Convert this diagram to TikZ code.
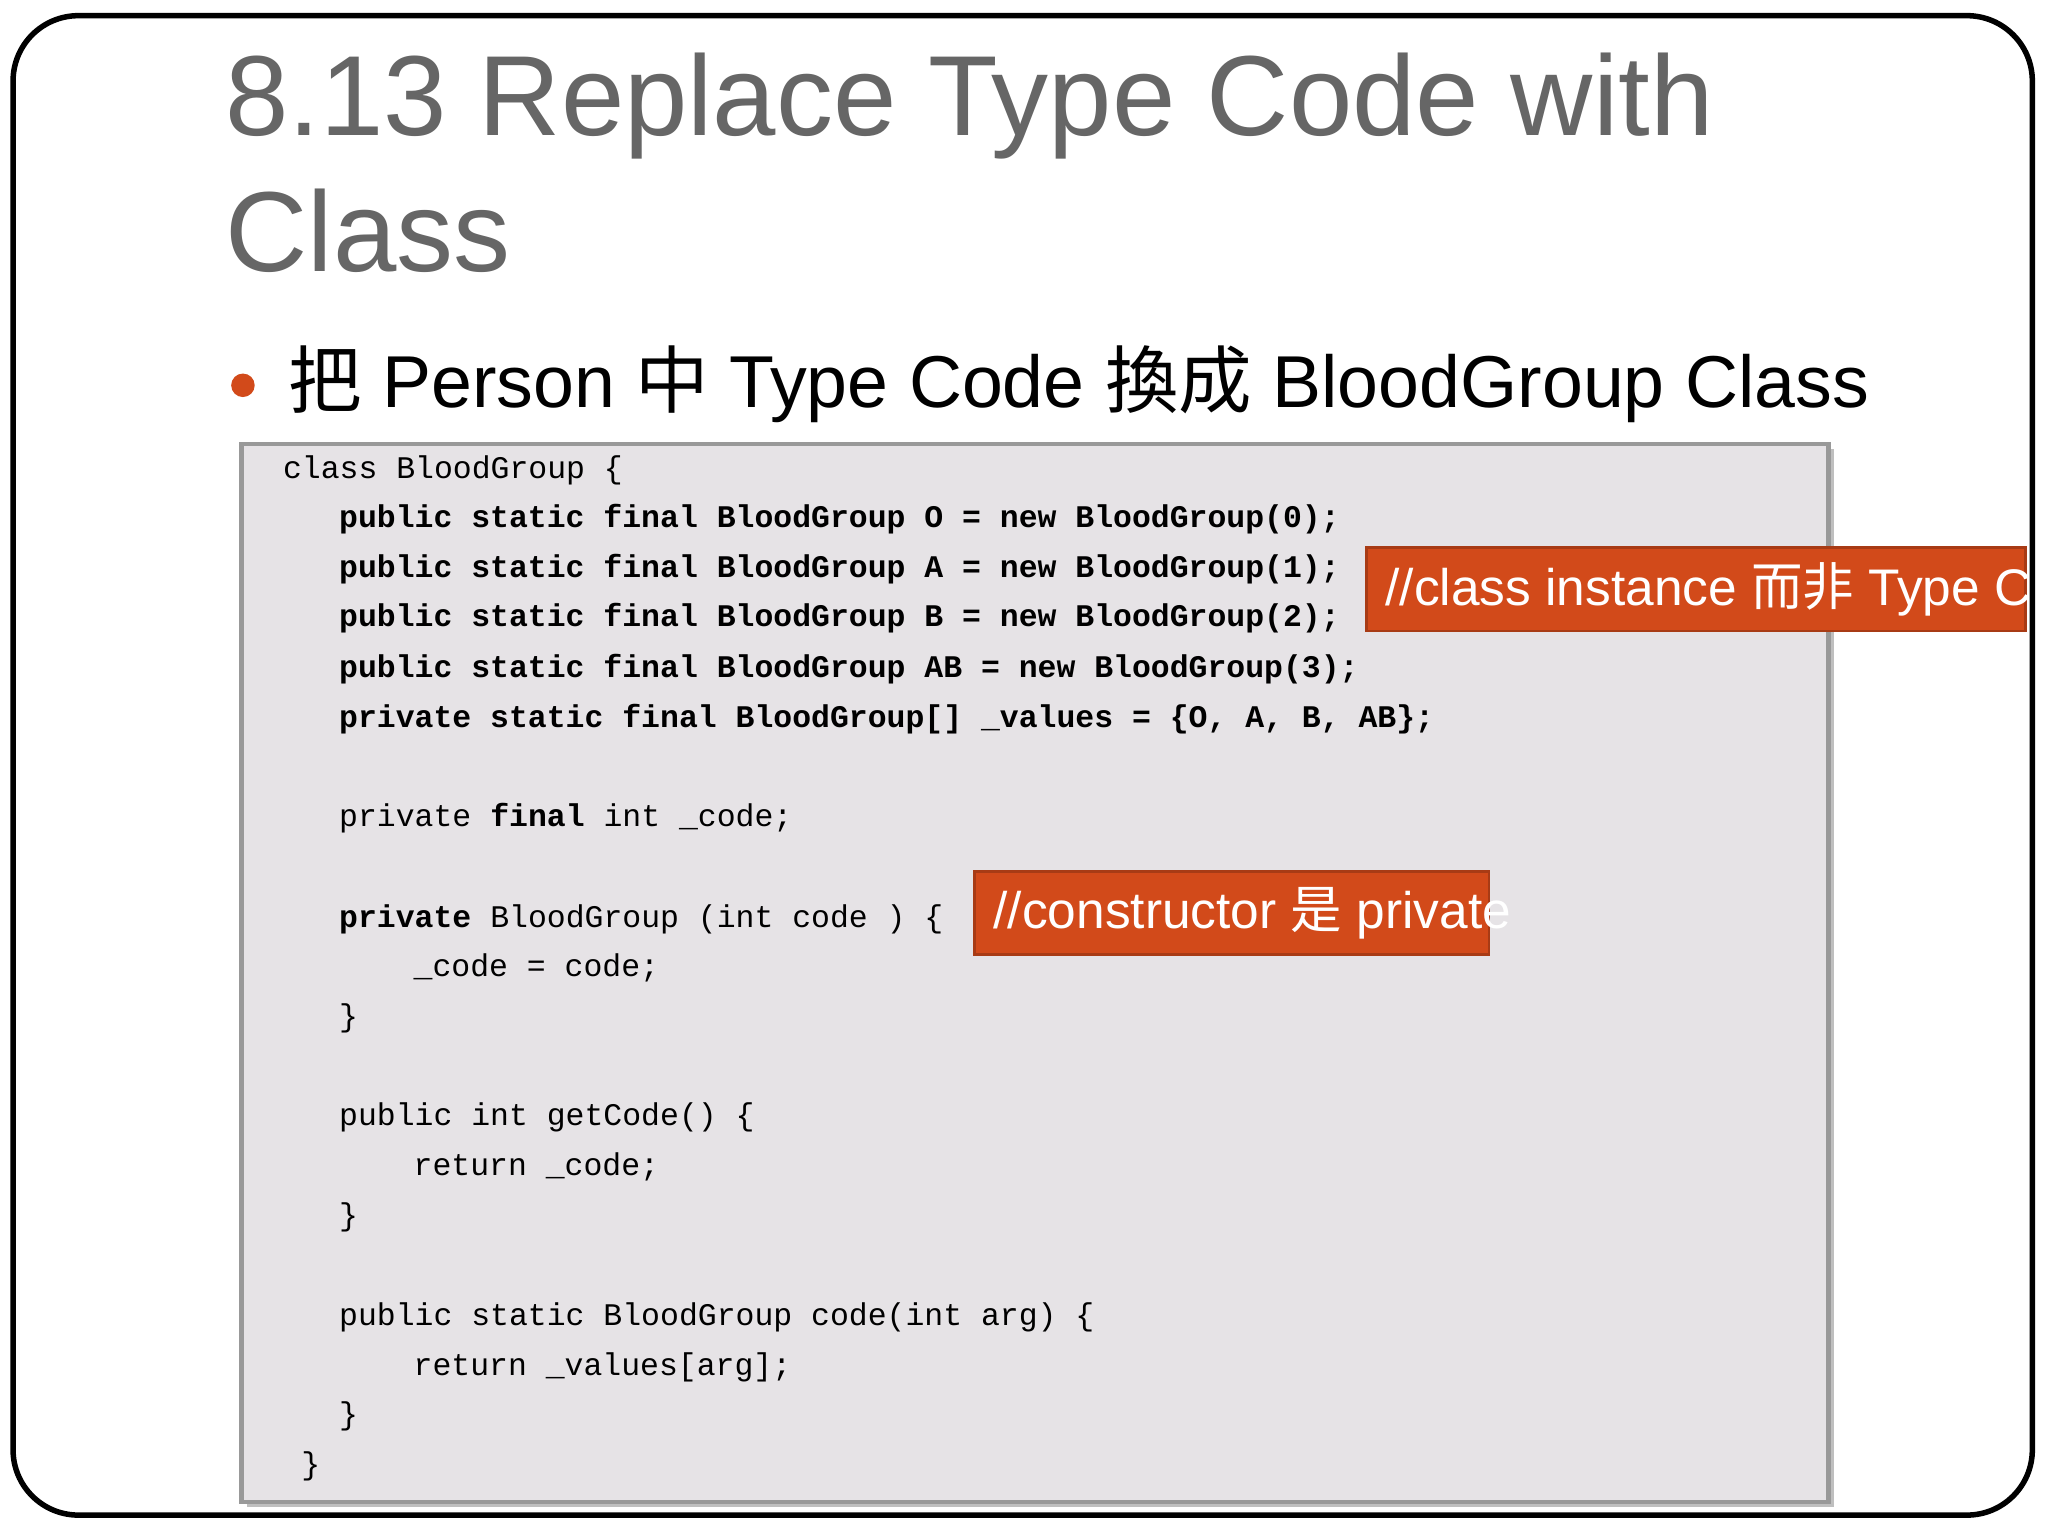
\documentclass[tikz,border=0pt]{standalone}
\usepackage{fontspec}
\setmainfont{Liberation Sans}
\setmonofont{Liberation Mono}
\newfontfamily\cjk{Noto Sans CJK TC}
\definecolor{titlegrey}{HTML}{666666}
\definecolor{accent}{HTML}{D24A1A}
\definecolor{codebg}{HTML}{E6E3E6}
\begin{document}
\begin{tikzpicture}[x=0.01cm,y=-0.01cm,
  code/.style={anchor=base west,inner sep=0,font=\ttfamily\fontsize{6.85pt}{8pt}\selectfont},
  note/.style={fill=accent,draw=accent!80!black,line width=0.6pt,minimum height=64*0.01cm,anchor=north west,inner sep=0},
  notetext/.style={anchor=west,inner sep=0,text=white,font=\fontsize{11.2pt}{13pt}\selectfont}]
\useasboundingbox (0,0) rectangle (1568,1176);
\fill[white] (0,0) rectangle (1568,1176);
\draw[line width=1.2pt,rounded corners=50*0.01cm] (10,12) rectangle (1556,1160);
\node[anchor=base west,inner sep=0,text=titlegrey,font=\fontsize{24.8pt}{28pt}\selectfont] (t1) at (172,104) {8.13 Replace Type Code with};
\node[anchor=base west,inner sep=0,text=titlegrey,font=\fontsize{24.8pt}{28pt}\selectfont] (t2) at (172,208) {Class};
\fill[accent] (186,295) circle (9);
\node[anchor=base west,inner sep=0,font=\fontsize{16pt}{19pt}\selectfont] (sub) at (220,312) {{\cjk 把} Person {\cjk 中} Type Code {\cjk 換成} BloodGroup Class};
\fill[black!25] (189,344) rectangle (1404,1154);
\draw[fill=codebg,draw=black!40,line width=1pt] (185,340) rectangle (1400,1150);
\node[code] (c1) at (216,366) {class BloodGroup \{};
\node[code] (c2) at (259,404) {\bfseries public static final BloodGroup O = new BloodGroup(0);};
\node[code] (c3) at (259,442) {\bfseries public static final BloodGroup A = new BloodGroup(1);};
\node[code] (c4) at (259,480) {\bfseries public static final BloodGroup B = new BloodGroup(2);};
\node[code] (c5) at (259,519) {\bfseries public static final BloodGroup AB = new BloodGroup(3);};
\node[code] (c6) at (259,557) {\bfseries private static final BloodGroup[] \_values = \{O, A, B, AB\};};
\node[code] (c7) at (259,633) {private {\bfseries final} int \_code;};
\node[code] (c8) at (259,710) {{\bfseries private} BloodGroup (int code ) \{};
\node[code] (c9) at (316,748) {\_code = code;};
\node[code] (c10) at (259,786) {\}};
\node[code] (c11) at (259,862) {public int getCode() \{};
\node[code] (c12) at (316,900) {return \_code;};
\node[code] (c13) at (259,938) {\}};
\node[code] (c14) at (259,1015) {public static BloodGroup code(int arg) \{};
\node[code] (c15) at (316,1053) {return \_values[arg];};
\node[code] (c16) at (259,1091) {\}};
\node[code] (c17) at (230,1129) {\}};
\node[note,minimum width=505*0.01cm] (n1) at (1045,418) {};
\begin{scope}
\clip (1045,418) rectangle (1552,482);
\node[notetext] (n1t) at (1060,451) {//class instance {\cjk 而非} Type Code};
\end{scope}
\node[note,minimum width=394*0.01cm] (n2) at (745,666) {};
\node[notetext] (n2t) at (760,699) {//constructor {\cjk 是} private};
\end{tikzpicture}
\end{document}
